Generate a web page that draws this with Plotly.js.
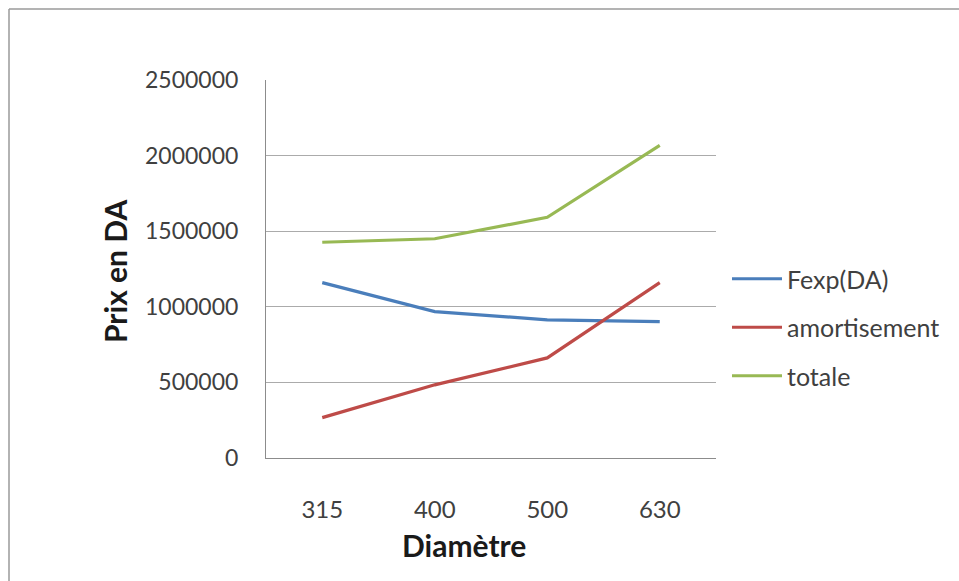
<!DOCTYPE html>
<html>
<head>
<meta charset="utf-8">
<script src="https://cdn.plot.ly/plotly-3.0.1.min.js"></script>
<style>html,body{margin:0;padding:0;background:#fff;}#chart{width:959px;height:581px;}</style>
</head>
<body>
<div id="chart"></div>
<script>
const categories = ["315", "400", "500", "630"];
const fexp = [1160000, 968000, 914000, 902000];
const amortisement = [267000, 484000, 662000, 1160000];
const totale = [1427000, 1450000, 1592000, 2068000];
const seriesNames = ["Fexp(DA)", "amortisement", "totale"];
const yTicks = [0, 500000, 1000000, 1500000, 2000000, 2500000];

const colors = ["#4a7ebb", "#be4b48", "#98b954"];
const seriesData = [fexp, amortisement, totale];

const traces = seriesData.map((vals, i) => ({
  type: "scatter",
  mode: "lines",
  x: categories,
  y: vals,
  name: seriesNames[i],
  legendgroup: "g" + i,
  line: {color: colors[i], width: 3.2},
  hoverinfo: "skip"
}));

const W = 450, H = 378, L = 266, T = 80;
const px = p => (p - L) / W;
const py = p => (T + H - p) / H;

const layout = {
  width: 959,
  height: 581,
  margin: {l: L, r: 959 - L - W, t: T, b: 581 - T - H},
  paper_bgcolor: "#ffffff",
  plot_bgcolor: "#ffffff",
  font: {family: "Lato, 'Open Sans', sans-serif", color: "#404040", size: 24},
  showlegend: true,
  legend: {
    x: px(727), y: py(256), xanchor: "left", yanchor: "top",
    font: {size: 25, color: "#404040"},
    traceorder: "grouped",
    tracegroupgap: 13,
    itemwidth: 50,
    bgcolor: "rgba(0,0,0,0)"
  },
  xaxis: {
    type: "category",
    range: [-0.5, 3.5],
    showgrid: false,
    showline: true,
    linecolor: "#8c8c8c",
    linewidth: 1,
    ticks: "",
    ticklabelstandoff: 30,
    tickfont: {size: 24, color: "#404040"},
    zeroline: false,
    fixedrange: true
  },
  yaxis: {
    range: [0, 2500000],
    tickvals: yTicks,
    ticktext: yTicks.map(String),
    showgrid: true,
    gridcolor: "#ababab",
    gridwidth: 1,
    showline: true,
    linecolor: "#8c8c8c",
    linewidth: 1,
    ticks: "",
    ticklabelstandoff: 22,
    tickfont: {size: 23, color: "#404040"},
    zeroline: false,
    automargin: false,
    fixedrange: true
  },
  annotations: [
    {
      text: "<b>Prix en DA</b>",
      xref: "paper", yref: "paper",
      x: px(115), y: py(272),
      xanchor: "center", yanchor: "middle",
      textangle: -90,
      showarrow: false,
      font: {size: 30, color: "#1a1a1a"}
    },
    {
      text: "<b>Diamètre</b>",
      xref: "paper", yref: "paper",
      x: px(464), y: py(545),
      xanchor: "center", yanchor: "middle",
      showarrow: false,
      font: {size: 30, color: "#1a1a1a"}
    }
  ],
  shapes: [
    {type: "line", xref: "paper", yref: "paper", x0: px(9), x1: px(959), y0: py(9), y1: py(9), line: {color: "#9a9a9a", width: 1.5}},
    {type: "line", xref: "paper", yref: "paper", x0: px(9), x1: px(9), y0: py(9), y1: py(581), line: {color: "#9a9a9a", width: 1.5}}
  ]
};

Plotly.newPlot("chart", traces, layout, {displayModeBar: false, staticPlot: true});
</script>
</body>
</html>
